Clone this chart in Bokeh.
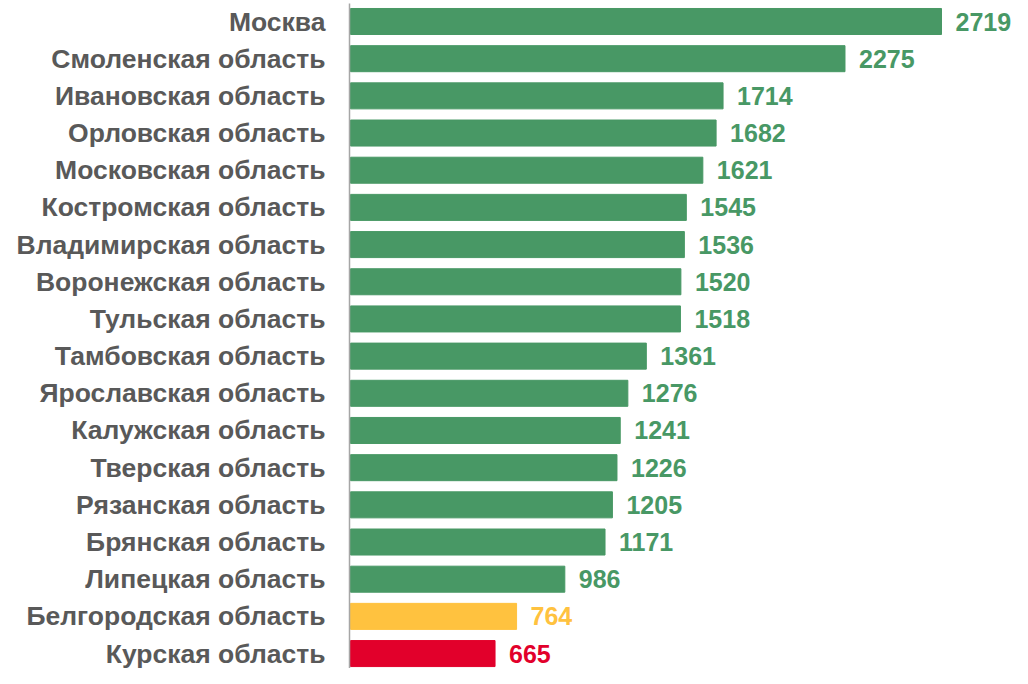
from bokeh.plotting import figure
from bokeh.models import Range1d, FixedTicker, ColumnDataSource
from bokeh.embed import file_html
from bokeh.resources import INLINE
from bokeh.core.properties import value

regions = ["Москва", "Смоленская область", "Ивановская область", "Орловская область",
           "Московская область", "Костромская область", "Владимирская область",
           "Воронежская область", "Тульская область", "Тамбовская область",
           "Ярославская область", "Калужская область", "Тверская область",
           "Рязанская область", "Брянская область", "Липецкая область",
           "Белгородская область", "Курская область"]
values = [2719, 2275, 1714, 1682, 1621, 1545, 1536, 1520, 1518, 1361,
          1276, 1241, 1226, 1205, 1171, 986, 764, 665]

GREEN = "#489865"
YELLOW = "#FFC23F"
RED = "#E2002B"
colors = [GREEN] * 16 + [YELLOW, RED]

idx = list(range(len(regions)))
src = ColumnDataSource(dict(y=idx, v=values, c=colors, t=[str(x) for x in values]))

W, H = 1012, 668
left = 349
top_border = 3
scale = 0.21736          # px per unit
step = 37.18             # px per row
first_center = 21.0
x0 = -1 / scale
y_top = (top_border - first_center) / step
y_bottom = (H - first_center) / step

p = figure(width=W, height=H, output_backend="svg", toolbar_location=None,
           x_range=Range1d(x0, x0 + (W - left) / scale), y_range=Range1d(y_bottom, y_top),
           min_border_left=left, min_border_right=0, min_border_top=top_border,
           min_border_bottom=0, outline_line_color=None)
p.frame_width = W - left
p.frame_height = H - top_border

p.hbar(y="y", left=0, right="v", height=0.70, color="c", source=src)
p.text(x="v", y="y", text="t", text_color="c", x_offset=14, text_baseline="middle",
       text_align="left", text_font=value("Liberation Sans"), text_font_style="bold",
       text_font_size="25px", source=src)

p.xaxis.visible = False
p.xgrid.visible = False
p.ygrid.visible = False
ax = p.yaxis[0]
ax.ticker = FixedTicker(ticks=idx)
ax.major_label_overrides = {i: r for i, r in zip(idx, regions)}
ax.major_tick_line_color = None
ax.minor_tick_line_color = None
ax.major_tick_out = 0
ax.major_tick_in = 0
ax.minor_tick_out = 0
ax.axis_line_color = "#a6a6a6"
ax.axis_line_width = 1.5
ax.major_label_standoff = 24
ax.major_label_text_font = "Liberation Sans"
ax.major_label_text_font_style = "bold"
ax.major_label_text_font_size = "26.5px"
ax.major_label_text_color = "#595959"

open("out.html", "w").write(file_html(p, INLINE))
